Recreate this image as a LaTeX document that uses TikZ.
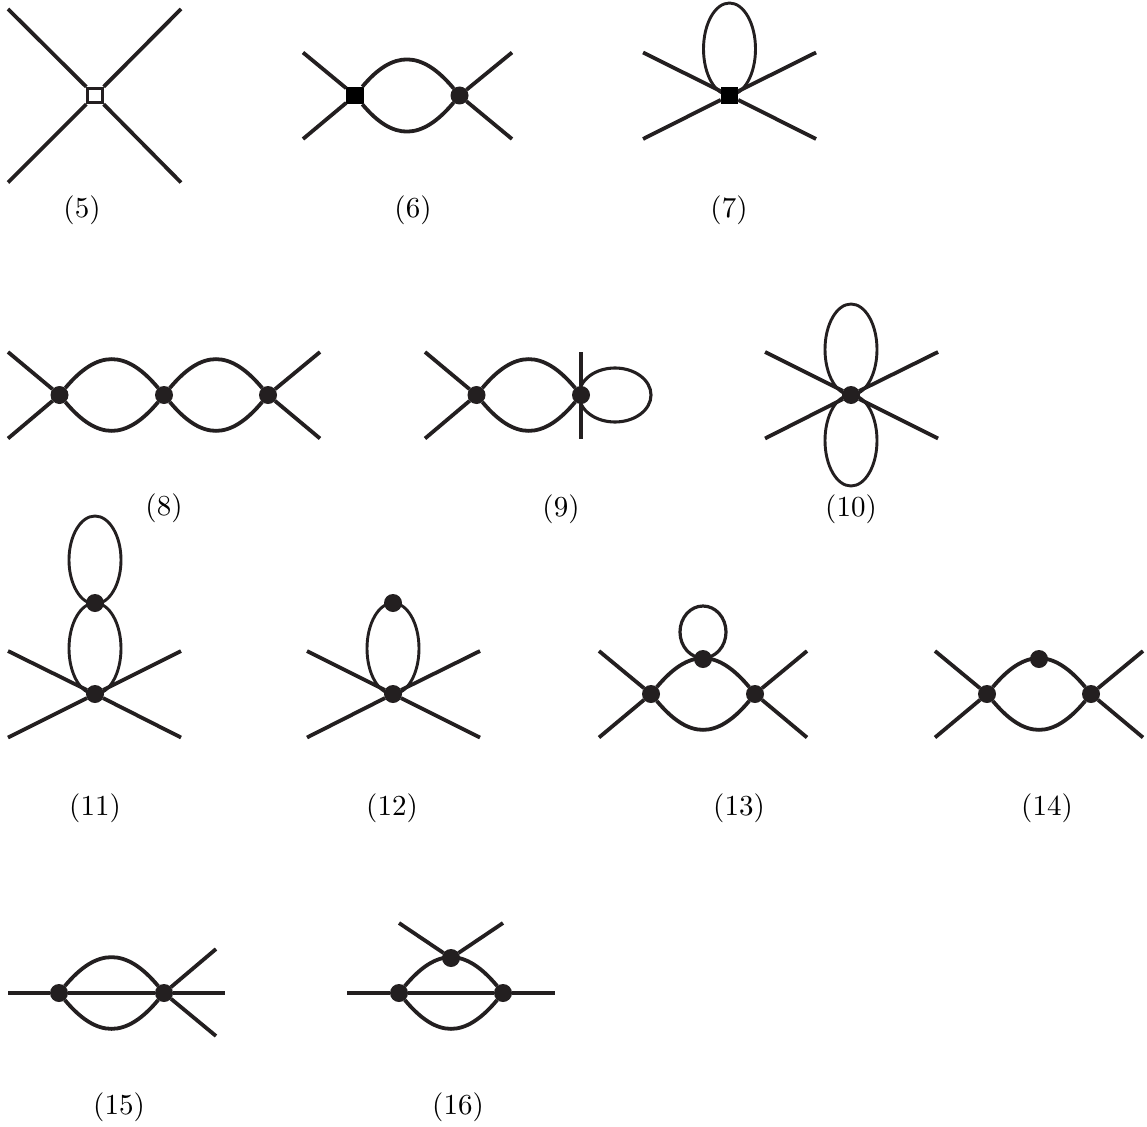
\documentclass[tikz,border=0pt]{standalone}
\usetikzlibrary{shapes.geometric}
\definecolor{ink}{HTML}{231F20}
\font\lblfont="[lmroman10-regular.otf]" at 29pt
\tikzset{
  leg/.style={draw=ink,line width=3.8pt},
  arcl/.style={draw=ink,line width=3.8pt},
  vtx/.style={circle,fill=ink,inner sep=0pt,minimum size=18pt,outer sep=0pt},
  sqb/.style={rectangle,fill=black,inner sep=0pt,minimum size=17.5pt,outer sep=0pt},
  sqw/.style={rectangle,draw=ink,fill=white,line width=3.4pt,inner sep=0pt,minimum size=14.5pt,outer sep=1.5pt},
  oval/.style={ellipse,draw=ink,line width=2.9pt,inner sep=0pt,outer sep=0pt,minimum width=52pt,minimum height=#1},
  lbl/.style={font=\lblfont,text=black,inner sep=0pt,yshift=-1.8pt},
}
\newcommand{\bub}[2]{\path[arcl] (#1) .. controls +(38,-45.5) and +(-38,-45.5) .. (#2);
  \path[arcl] (#1) .. controls +(38,45.5) and +(-38,45.5) .. (#2);}
\begin{document}
\begin{tikzpicture}[x=1pt,y=-1pt]
\useasboundingbox (0,0) rectangle (1147,1126);
% (5)
\node[sqw] (v5) at (95,95.5) {};
\coordinate (e5a) at (8,9); \coordinate (e5b) at (181,9);
\coordinate (e5c) at (8,182.5); \coordinate (e5d) at (181,182.5);
\foreach \e in {a,b,c,d} \path[leg] (e5\e) -- (v5);
\node[lbl] (t5) at (82,208) {(5)};
% (6)
\node[sqb] (v6a) at (355,95.5) {};
\node[vtx] (v6b) at (459.5,95.5) {};
\coordinate (e6a) at (303,52.5); \coordinate (e6b) at (303,139);
\coordinate (e6c) at (512,52.5); \coordinate (e6d) at (512,139);
\path[leg] (e6a) -- (v6a); \path[leg] (e6b) -- (v6a);
\path[leg] (e6c) -- (v6b); \path[leg] (e6d) -- (v6b);
\bub{v6a}{v6b}
\node[lbl] (t6) at (413,208) {(6)};
% (7)
\node[oval=92pt] (o7) at (729.5,49) {};
\node[sqb] (v7) at (729.5,95.5) {};
\coordinate (e7a) at (643,52.5); \coordinate (e7b) at (816,52.5);
\coordinate (e7c) at (643,139); \coordinate (e7d) at (816,139);
\foreach \e in {a,b,c,d} \path[leg] (e7\e) -- (v7);
\node[lbl] (t7) at (729,208) {(7)};
% (8)
\node[vtx] (v8a) at (59.5,395) {};
\node[vtx] (v8b) at (164,395) {};
\node[vtx] (v8c) at (268,395) {};
\coordinate (e8a) at (8,352); \coordinate (e8b) at (8,438.5);
\coordinate (e8c) at (320,352); \coordinate (e8d) at (320,438.5);
\path[leg] (e8a) -- (v8a); \path[leg] (e8b) -- (v8a);
\path[leg] (e8c) -- (v8c); \path[leg] (e8d) -- (v8c);
\bub{v8a}{v8b}
\bub{v8b}{v8c}
\node[lbl] (t8) at (164,506) {(8)};
% (9)
\node[ellipse,draw=ink,line width=3.1pt,inner sep=0pt,outer sep=0pt,minimum width=72pt,minimum height=54pt] (o9) at (615,395) {};
\node[vtx] (v9a) at (476.5,395) {};
\node[vtx] (v9b) at (581,395) {};
\coordinate (e9a) at (425,352); \coordinate (e9b) at (425,438.5);
\coordinate (e9c) at (581,352); \coordinate (e9d) at (581,438.5);
\path[leg] (e9a) -- (v9a); \path[leg] (e9b) -- (v9a);
\path[leg] (e9c) -- (v9b); \path[leg] (e9d) -- (v9b);
\bub{v9a}{v9b}
\node[lbl] (t9) at (561,507) {(9)};
% (10)
\node[oval=91pt] (o10a) at (851,349.5) {};
\node[oval=91pt] (o10b) at (851,440.5) {};
\node[vtx] (v10) at (851,395) {};
\coordinate (e10a) at (765,352); \coordinate (e10b) at (938,352);
\coordinate (e10c) at (765,438.5); \coordinate (e10d) at (938,438.5);
\foreach \e in {a,b,c,d} \path[leg] (e10\e) -- (v10);
\node[lbl] (t10) at (851,507) {(10)};
% (11)
\node[oval=88pt] (o11a) at (95,560) {};
\node[oval=91pt] (o11b) at (95,648.5) {};
\node[vtx] (v11a) at (95,603) {};
\node[vtx] (v11b) at (95,694) {};
\coordinate (e11a) at (8,651); \coordinate (e11b) at (181,651);
\coordinate (e11c) at (8,737.5); \coordinate (e11d) at (181,737.5);
\foreach \e in {a,b,c,d} \path[leg] (e11\e) -- (v11b);
\node[lbl] (t11) at (95,806) {(11)};
% (12)
\node[oval=91pt] (o12) at (393,648.5) {};
\node[vtx] (v12a) at (393,603) {};
\node[vtx] (v12b) at (393,694) {};
\coordinate (e12a) at (307,651); \coordinate (e12b) at (480,651);
\coordinate (e12c) at (307,737.5); \coordinate (e12d) at (480,737.5);
\foreach \e in {a,b,c,d} \path[leg] (e12\e) -- (v12b);
\node[lbl] (t12) at (392,806) {(12)};
% (13)
\node[ellipse,draw=ink,line width=3.2pt,inner sep=0pt,outer sep=0pt,minimum width=46pt,minimum height=52pt] (o13) at (703,632) {};
\node[vtx] (v13a) at (651,694) {};
\node[vtx] (v13b) at (755,694) {};
\node[vtx] (v13c) at (703,659) {};
\coordinate (e13a) at (599,651); \coordinate (e13b) at (599,737.5);
\coordinate (e13c) at (807,651); \coordinate (e13d) at (807,737.5);
\path[leg] (e13a) -- (v13a); \path[leg] (e13b) -- (v13a);
\path[leg] (e13c) -- (v13b); \path[leg] (e13d) -- (v13b);
\bub{v13a}{v13b}
\node[lbl] (t13) at (739,806) {(13)};
% (14)
\node[vtx] (v14a) at (987,694) {};
\node[vtx] (v14b) at (1091,694) {};
\node[vtx] (v14c) at (1039,659) {};
\coordinate (e14a) at (935,651); \coordinate (e14b) at (935,737.5);
\coordinate (e14c) at (1143,651); \coordinate (e14d) at (1143,737.5);
\path[leg] (e14a) -- (v14a); \path[leg] (e14b) -- (v14a);
\path[leg] (e14c) -- (v14b); \path[leg] (e14d) -- (v14b);
\bub{v14a}{v14b}
\node[lbl] (t14) at (1047,806) {(14)};
% (15)
\node[vtx] (v15a) at (59,993) {};
\node[vtx] (v15b) at (164,993) {};
\coordinate (e15a) at (8,993); \coordinate (e15b) at (225,993);
\coordinate (e15c) at (216,949); \coordinate (e15d) at (216,1036);
\path[leg] (e15a) -- (v15a); \path[leg] (v15a) -- (v15b);
\path[leg] (v15b) -- (e15b); \path[leg] (v15b) -- (e15c); \path[leg] (v15b) -- (e15d);
\bub{v15a}{v15b}
\node[lbl] (t15) at (119,1105) {(15)};
% (16)
\node[vtx] (v16a) at (399,993) {};
\node[vtx] (v16b) at (503,993) {};
\node[vtx] (v16c) at (451,958) {};
\coordinate (e16a) at (347,993); \coordinate (e16b) at (555,993);
\coordinate (e16c) at (399,923); \coordinate (e16d) at (503,923);
\path[leg] (e16a) -- (v16a); \path[leg] (v16a) -- (v16b); \path[leg] (v16b) -- (e16b);
\path[leg] (e16c) -- (v16c); \path[leg] (e16d) -- (v16c);
\bub{v16a}{v16b}
\node[lbl] (t16) at (458,1105) {(16)};
\end{tikzpicture}
\end{document}
